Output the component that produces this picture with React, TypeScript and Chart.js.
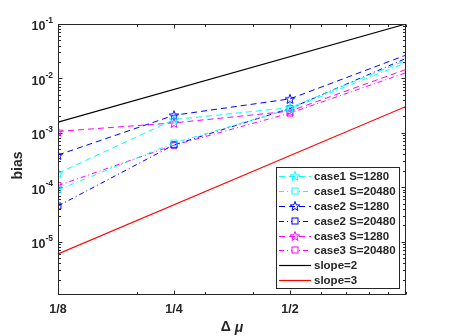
import React, { useEffect, useRef } from 'react';
import { Chart, registerables } from 'chart.js';
Chart.register(...registerables);

const xValues = [1 / 8, 1 / 4, 1 / 2, 1];
const case1S1280 = [1.8e-4, 1.75e-3, 2.9e-3, 0.0214];
const case1S20480 = [8.9e-5, 6.5e-4, 2.75e-3, 0.0194];
const case2S1280 = [3.9e-4, 2.1e-3, 4.2e-3, 0.0268];
const case2S20480 = [4.5e-5, 6.0e-4, 2.8e-3, 0.0233];
const case3S1280 = [1.06e-3, 1.52e-3, 2.5e-3, 0.0146];
const case3S20480 = [1.07e-4, 5.9e-4, 2.3e-3, 0.0127];
const slopeX = [1 / 8, 1];
const slope2 = [1.5625e-3, 0.1];
const slope3 = [5.9e-6, 3.05e-3];
const xTickValues = [1 / 8, 1 / 4, 1 / 2];
const xTickLabels = ['1/8', '1/4', '1/2'];
const xMinorValues = [0.2, 0.3, 0.4, 0.6, 0.7, 0.8, 0.9, 1];
const yTickExps = [-1, -2, -3, -4, -5];
const seriesLabels = [
  'case1 S=1280', 'case1 S=20480', 'case2 S=1280', 'case2 S=20480',
  'case3 S=1280', 'case3 S=20480', 'slope=2', 'slope=3',
];

const CYAN = '#00FFFF';
const BLUE = '#0000FF';
const MAGENTA = '#FF00FF';
const DASH = [6, 4];
const DASHDOT = [5, 3, 1, 3];
const AX = '#262626';
const FONT = '"Liberation Sans", Arial, sans-serif';

function starPath(ctx: CanvasRenderingContext2D, cx: number, cy: number, ro: number, ri: number) {
  ctx.beginPath();
  for (let i = 0; i < 10; i++) {
    const r = i % 2 === 0 ? ro : ri;
    const ang = -Math.PI / 2 + (i * Math.PI) / 5;
    const px = cx + r * Math.cos(ang);
    const py = cy + r * Math.sin(ang);
    if (i === 0) ctx.moveTo(px, py);
    else ctx.lineTo(px, py);
  }
  ctx.closePath();
}

function makeStar(color: string) {
  const c = document.createElement('canvas');
  c.width = 12;
  c.height = 12;
  const g = c.getContext('2d')!;
  g.strokeStyle = color;
  g.lineWidth = 1;
  starPath(g, 6, 6.5, 5, 2.1);
  g.stroke();
  return c;
}

const pts = (ys: number[], xs: number[] = xValues) => ys.map((y, i) => ({ x: xs[i], y }));

export default function App() {
  const ref = useRef<HTMLCanvasElement>(null);
  useEffect(() => {
    const stars: Record<string, HTMLCanvasElement> = {
      [CYAN]: makeStar(CYAN),
      [BLUE]: makeStar(BLUE),
      [MAGENTA]: makeStar(MAGENTA),
    };
    const styleDefs = [
      { c: CYAN, dash: DASH, m: 'star', d: case1S1280 },
      { c: CYAN, dash: DASHDOT, m: 'rect', d: case1S20480 },
      { c: BLUE, dash: DASH, m: 'star', d: case2S1280 },
      { c: BLUE, dash: DASHDOT, m: 'rect', d: case2S20480 },
      { c: MAGENTA, dash: DASH, m: 'star', d: case3S1280 },
      { c: MAGENTA, dash: DASHDOT, m: 'rect', d: case3S20480 },
    ];
    const datasets: any[] = styleDefs.map((s, i) => ({
      label: seriesLabels[i],
      data: pts(s.d),
      borderColor: s.c,
      borderWidth: 1,
      borderDash: s.dash,
      pointStyle: s.m === 'star' ? stars[s.c] : 'rect',
      pointRadius: [4.2, 4.2, 4.2, 0],
      pointBorderColor: s.c,
      pointBackgroundColor: 'rgba(0,0,0,0)',
      pointBorderWidth: 1,
      tension: 0,
    }));
    datasets.push({
      label: seriesLabels[6], data: pts(slope2, slopeX), borderColor: '#000000',
      borderWidth: 1.2, pointRadius: 0, tension: 0,
    });
    datasets.push({
      label: seriesLabels[7], data: pts(slope3, slopeX), borderColor: '#FF0000',
      borderWidth: 1.2, pointRadius: 0, tension: 0,
    });

    const decor = {
      id: 'decor',
      beforeDatasetsDraw(chart: any) {
        const { ctx, chartArea: a } = chart;
        const xs = chart.scales.x;
        const ys = chart.scales.y;
        const L = Math.round(a.left) + 0.5;
        const R = Math.round(a.right) - 0.5;
        const T = Math.round(a.top) + 0.5;
        const B = Math.round(a.bottom) - 0.5;
        ctx.save();
        ctx.fillStyle = '#ffffff';
        ctx.fillRect(a.left, a.top, a.right - a.left, a.bottom - a.top);
        ctx.strokeStyle = AX;
        ctx.lineWidth = 1;
        ctx.beginPath();
        const xt = (v: number, len: number) => {
          const px = Math.round(xs.getPixelForValue(v)) + 0.5;
          ctx.moveTo(px, B); ctx.lineTo(px, B - len);
          ctx.moveTo(px, T); ctx.lineTo(px, T + len);
        };
        xTickValues.forEach((v) => xt(v, 4));
        xMinorValues.forEach((v) => xt(v, 2.5));
        const yt = (v: number, len: number) => {
          const py = Math.round(ys.getPixelForValue(v)) + 0.5;
          ctx.moveTo(L, py); ctx.lineTo(L + len, py);
          ctx.moveTo(R, py); ctx.lineTo(R - len, py);
        };
        for (let e = -6; e <= -1; e++) {
          const base = Math.pow(10, e);
          if (base >= ys.min && base <= ys.max) yt(base, 4);
          for (let m = 2; m <= 9; m++) {
            const v = m * base;
            if (v >= ys.min && v <= ys.max) yt(v, 2.5);
          }
        }
        ctx.stroke();
        ctx.restore();
      },
      afterDraw(chart: any) {
        const { ctx, chartArea: a } = chart;
        const xs = chart.scales.x;
        const ys = chart.scales.y;
        ctx.save();
        // box
        ctx.strokeStyle = AX;
        ctx.lineWidth = 1;
        ctx.strokeRect(Math.round(a.left) + 0.5, Math.round(a.top) + 0.5,
          Math.round(a.right) - Math.round(a.left) - 1, Math.round(a.bottom) - Math.round(a.top) - 1);
        // x tick labels
        ctx.fillStyle = AX;
        ctx.font = `bold 12.5px ${FONT}`;
        ctx.textAlign = 'center';
        ctx.textBaseline = 'middle';
        xTickValues.forEach((v, i) => {
          ctx.fillText(xTickLabels[i], xs.getPixelForValue(v), a.bottom + 15);
        });
        // y tick labels
        yTickExps.forEach((e) => {
          const py = ys.getPixelForValue(Math.pow(10, e));
          const sup = String(e);
          ctx.font = `bold 8.5px ${FONT}`;
          const sw = ctx.measureText(sup).width;
          const right = a.left - 5;
          ctx.textAlign = 'left';
          ctx.textBaseline = 'middle';
          ctx.fillText(sup, right - sw, py - 3);
          ctx.font = `bold 12.5px ${FONT}`;
          ctx.textAlign = 'right';
          ctx.fillText('10', right - sw, py + 3);
        });
        // axis titles
        ctx.font = `bold 14px ${FONT}`;
        ctx.textAlign = 'center';
        ctx.textBaseline = 'middle';
        ctx.save();
        ctx.translate(18, (a.top + a.bottom) / 2 + 6);
        ctx.rotate(-Math.PI / 2);
        ctx.fillText('bias', 0, 0);
        ctx.restore();
        ctx.textAlign = 'left';
        ctx.font = `bold 14px ${FONT}`;
        const d = 'Δ ';
        const dw = ctx.measureText(d).width;
        ctx.font = `italic bold 14px ${FONT}`;
        const mw = ctx.measureText('μ').width;
        const sx = (a.left + a.right) / 2 - (dw + mw) / 2;
        ctx.font = `bold 14px ${FONT}`;
        ctx.fillText(d, sx, 327);
        ctx.font = `italic bold 14px ${FONT}`;
        ctx.fillText('μ', sx + dw, 328);
        // legend
        const lx0 = 276.5, ly0 = 167.5, lx1 = 399.5, ly1 = 288.5;
        ctx.fillStyle = '#ffffff';
        ctx.fillRect(lx0, ly0, lx1 - lx0, ly1 - ly0);
        ctx.strokeStyle = AX;
        ctx.lineWidth = 1;
        ctx.strokeRect(lx0, ly0, lx1 - lx0, ly1 - ly0);
        chart.data.datasets.forEach((ds: any, i: number) => {
          const y = Math.round(175.7 + i * 14.95) + 0.5;
          ctx.save();
          ctx.strokeStyle = ds.borderColor;
          ctx.lineWidth = ds.borderWidth;
          ctx.setLineDash(ds.borderDash || []);
          ctx.beginPath();
          ctx.moveTo(279, y);
          ctx.lineTo(311, y);
          ctx.stroke();
          ctx.setLineDash([]);
          ctx.lineWidth = 1;
          if (i < 6) {
            if (typeof ds.pointStyle === 'string') {
              ctx.fillStyle = '#ffffff';
              ctx.fillRect(292, y - 3.5, 6, 6);
              ctx.strokeRect(292, y - 3.5, 6, 6);
            } else {
              ctx.drawImage(ds.pointStyle, 295 - 6, y - 6.5);
            }
          }
          ctx.restore();
          ctx.fillStyle = AX;
          ctx.font = `bold 11.5px ${FONT}`;
          ctx.textAlign = 'left';
          ctx.textBaseline = 'middle';
          ctx.fillText(ds.label, 314, y);
        });
        ctx.restore();
      },
    };

    const chart = new Chart(ref.current!, {
      type: 'line',
      data: { datasets },
      options: {
        animation: false,
        responsive: false,
        devicePixelRatio: 1,
        layout: { padding: { left: 58, right: 43, top: 24, bottom: 41 } },
        plugins: { legend: { display: false }, tooltip: { enabled: false } },
        scales: {
          x: { type: 'logarithmic', min: 0.125, max: 1, display: false },
          y: { type: 'logarithmic', min: 1.04e-6, max: 0.1, display: false },
        },
      },
      plugins: [decor],
    } as any);
    return () => chart.destroy();
  }, []);
  return (
    <div style={{ position: 'fixed', left: 0, top: 0, width: 449, height: 336, background: '#fff' }}>
      <canvas ref={ref} width={449} height={336} style={{ display: 'block' }} />
    </div>
  );
}
